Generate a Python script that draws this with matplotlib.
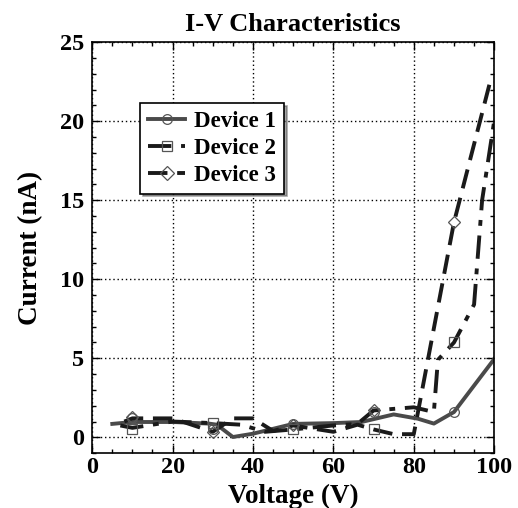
import matplotlib
matplotlib.use("Agg")
import matplotlib.pyplot as plt
from matplotlib.lines import Line2D
from matplotlib.ticker import MultipleLocator

# line traces
v1 = [5, 10, 20, 29, 31, 35, 40, 50, 60, 67, 75, 81, 85, 90, 100]
i1 = [0.85, 0.97, 0.97, 0.87, 0.8, 0.02, 0.23, 0.85, 0.9, 0.97, 1.45, 1.18, 0.87, 1.6, 4.95]

v2 = [7, 10, 20, 30, 37, 43, 50, 60, 66, 70, 80, 85, 86, 90, 95, 97, 100]
i2 = [0.75, 0.6, 1.0, 0.9, 0.8, 0.35, 0.5, 0.75, 0.85, 1.7, 1.9, 1.6, 4.9, 6.0, 8.4, 15, 20]

v3 = [8, 10, 20, 30, 35, 40, 45, 50, 60, 66, 70, 75, 80, 90, 99]
i3 = [1.0, 1.2, 1.2, 0.35, 1.2, 1.2, 0.4, 0.75, 0.35, 0.8, 0.5, 0.2, 0.2, 13.6, 22.5]

# marker positions
vm = [10, 30, 50, 70, 90]
m1 = [1.2, 0.5, 0.85, 1.6, 1.6]
m2 = [0.55, 0.93, 0.5, 0.5, 6.0]
m3 = [1.3, 0.34, 0.8, 1.7, 13.6]

labels = ["Device 1", "Device 2", "Device 3"]

plt.rcParams['font.family'] = ['Liberation Serif', 'DejaVu Serif']
plt.rcParams['font.weight'] = 'bold'

fig = plt.figure(figsize=(5.18, 5.08), dpi=100)
ax = fig.add_axes([0.178, 0.108, 0.776, 0.809])

lw = 2.8
st1 = dict(color='#4a4a4a', linestyle='-', linewidth=lw)
st2 = dict(color='#1a1a1a', linestyle=(0, (6, 2.5, 1.5, 2.5)), linewidth=lw)
st3 = dict(color='#1a1a1a', linestyle=(0, (5, 2.5)), linewidth=lw)
mk = dict(markersize=7, markerfacecolor='none', markeredgecolor='#555555', markeredgewidth=0.9)

ax.plot(v1, i1, **st1)
ax.plot(v2, i2, **st2)
ax.plot(v3, i3, **st3)
ax.plot(vm, m1, linestyle='none', marker='o', **mk)
ax.plot(vm, m2, linestyle='none', marker='s', **mk)
ax.plot(vm, m3, linestyle='none', marker='D', **dict(mk, markersize=6))

ax.set_xlim(0, 100)
ax.set_ylim(-1, 25)
ax.xaxis.set_major_locator(MultipleLocator(20))
ax.xaxis.set_minor_locator(MultipleLocator(5))
ax.yaxis.set_major_locator(MultipleLocator(5))
ax.yaxis.set_minor_locator(MultipleLocator(1))
ax.tick_params(which='both', direction='in', top=True, right=True, width=1)
ax.tick_params(which='major', length=6, labelsize=17.5)
ax.tick_params(axis='x', which='major', pad=3)
ax.tick_params(axis='y', which='major', pad=6)
ax.tick_params(which='minor', length=3)
for lab in ax.get_xticklabels() + ax.get_yticklabels():
    lab.set_fontweight('bold')
ax.grid(True, which='major', color='black', linestyle=(0, (1, 2)), linewidth=1)
for s in ax.spines.values():
    s.set_linewidth(1.2)

ax.set_xlabel("Voltage (V)", fontsize=19.5, fontweight='bold', labelpad=4)
ax.set_ylabel("Current (nA)", fontsize=19.5, fontweight='bold', labelpad=12)
ax.set_title("I-V Characteristics", fontsize=19, fontweight='bold', pad=8)

handles = [
    Line2D([], [], marker='o', **st1, **mk),
    Line2D([], [], marker='s', **st2, **mk),
    Line2D([], [], marker='D', **st3, **mk),
]
leg = ax.legend(handles, labels, loc='upper left', bbox_to_anchor=(0.12, 0.852),
                fancybox=False, shadow=True, framealpha=1, edgecolor='black',
                prop={'weight': 'bold', 'size': 16.5}, handlelength=1.6,
                handletextpad=0.4, labelspacing=0.25, borderpad=0.35,
                borderaxespad=0)
leg.get_frame().set_linewidth(1.2)

fig.savefig("out.png", dpi=100)
